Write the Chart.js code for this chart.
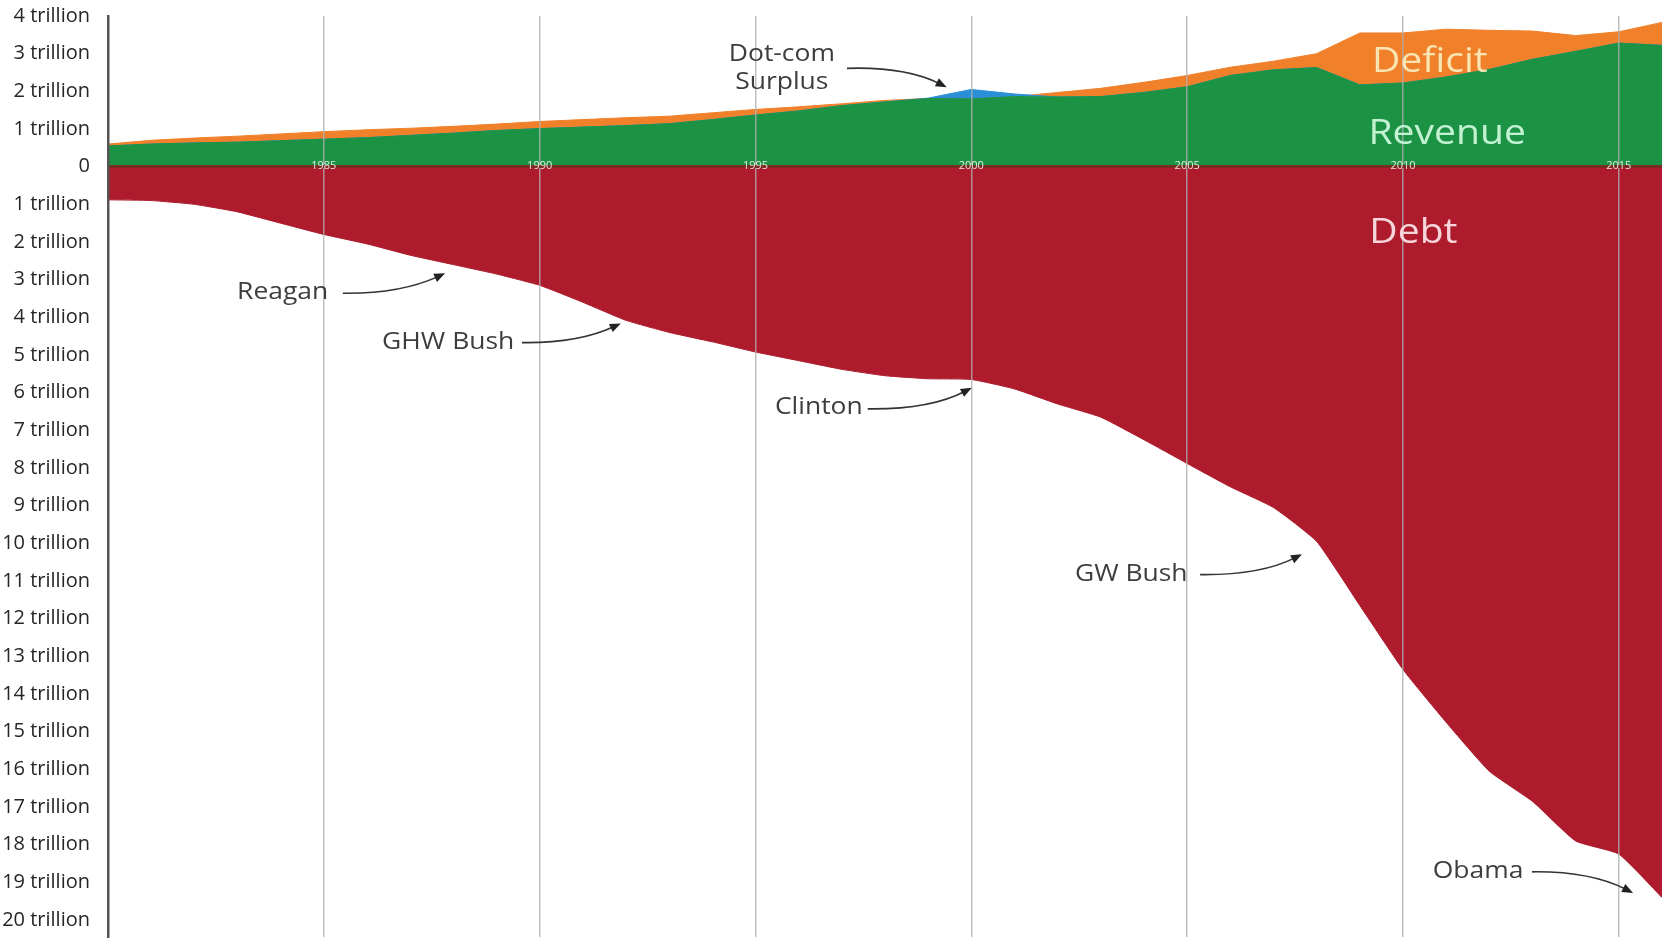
<!DOCTYPE html>
<html>
<head>
<meta charset="utf-8">
<title>Revenue, deficit and debt</title>
<script src="https://cdn.jsdelivr.net/npm/chart.js@4.4.1/dist/chart.umd.min.js"></script>
<style>
  html, body { margin: 0; background: #fff; }
  #wrap { width: 1662px; height: 940px; position: relative; }
</style>
</head>
<body>
<div id="wrap"><canvas id="debtChart"></canvas></div>
<script>
// values in trillions of dollars
const years = [1980, 1981, 1982, 1983, 1984, 1985, 1986, 1987, 1988, 1989,
  1990, 1991, 1992, 1993, 1994, 1995, 1996, 1997, 1998, 1999,
  2000, 2001, 2002, 2003, 2004, 2005, 2006, 2007, 2008, 2009,
  2010, 2011, 2012, 2013, 2014, 2015, 2016];
const revenue = [0.55, 0.60, 0.63, 0.65, 0.69, 0.73, 0.77, 0.83, 0.89, 0.96,
  1.01, 1.05, 1.09, 1.14, 1.25, 1.37, 1.48, 1.62, 1.72, 1.82,
  2.05, 1.93, 1.85, 1.86, 1.97, 2.12, 2.42, 2.57, 2.63, 2.17,
  2.22, 2.38, 2.58, 2.85, 3.06, 3.28, 3.22];
const outlays = [0.60, 0.70, 0.76, 0.81, 0.87, 0.93, 0.98, 1.02, 1.07, 1.13,
  1.20, 1.25, 1.30, 1.34, 1.43, 1.52, 1.59, 1.67, 1.76, 1.81,
  1.80, 1.86, 1.97, 2.08, 2.24, 2.42, 2.64, 2.80, 3.00, 3.55,
  3.55, 3.65, 3.62, 3.60, 3.48, 3.58, 3.83];
const debt = [0.88, 0.90, 1.00, 1.20, 1.50, 1.80, 2.05, 2.35, 2.60, 2.85,
  3.15, 3.60, 4.08, 4.40, 4.65, 4.92, 5.15, 5.38, 5.55, 5.63,
  5.65, 5.90, 6.30, 6.65, 7.25, 7.88, 8.50, 9.05, 9.95, 11.65,
  13.35, 14.75, 16.05, 16.85, 17.90, 18.25, 19.40];

const yearTicks = [1985, 1990, 1995, 2000, 2005, 2010, 2015];
const valueTicks = [4, 3, 2, 1, 0, -1, -2, -3, -4, -5, -6, -7, -8, -9, -10,
  -11, -12, -13, -14, -15, -16, -17, -18, -19, -20];

// big labels inside the areas, and the arrows with their captions (year, trillions)
const areaLabels = [
  { text: "Deficit", at: [2009.28, 2.51], color: "#f9e4b2" },
  { text: "Revenue", at: [2009.2, 0.61], color: "#c2f2d2" },
  { text: "Debt", at: [2009.22, -2.03], color: "#f6d6da" }
];
const notes = [
  { lines: ["Dot-com", "Surplus"], align: "center", at: [1995.61, 2.80], from: [1997.12, 2.61], via: [1998.46, 2.66], to: [1999.43, 2.11] },
  { lines: ["Reagan"], at: [1982.99, -3.52], from: [1985.44, -3.36], via: [1986.76, -3.38], to: [1987.81, -2.83] },
  { lines: ["GHW Bush"], at: [1986.35, -4.83], from: [1989.59, -4.67], via: [1990.89, -4.69], to: [1991.88, -4.16] },
  { lines: ["Clinton"], at: [1995.45, -6.56], from: [1997.60, -6.43], via: [1999.04, -6.45], to: [2000.01, -5.87] },
  { lines: ["GW Bush"], at: [2002.40, -10.99], from: [2005.30, -10.83], via: [2006.69, -10.85], to: [2007.66, -10.29] },
  { lines: ["Obama"], at: [2010.69, -18.88], from: [2012.99, -18.72], via: [2014.33, -18.70], to: [2015.33, -19.28] }
];

const pts = (vals) => years.map((yr, i) => ({ x: yr, y: vals[i] }));
const base = revenue.map((r, i) => Math.min(r, outlays[i]));

function stretchText(ctx, text, x, y, font, color, align) {
  ctx.save();
  ctx.translate(x, y);
  ctx.scale(1.15, 1);
  ctx.font = font;
  ctx.fillStyle = color;
  ctx.textAlign = align;
  ctx.textBaseline = "alphabetic";
  ctx.fillText(text, 0, 0);
  ctx.restore();
}

function arrow(ctx, [x0, y0], [cx, cy], [x1, y1]) {
  const ang = Math.atan2(y1 - cy, x1 - cx);
  const c = Math.cos(ang), s = Math.sin(ang);
  ctx.strokeStyle = "#333";
  ctx.fillStyle = "#222";
  ctx.lineWidth = 1.6;
  ctx.beginPath();
  ctx.moveTo(x0, y0);
  ctx.quadraticCurveTo(cx, cy, x1 - 8 * c, y1 - 8 * s);
  ctx.stroke();
  ctx.beginPath();
  ctx.moveTo(x1, y1);
  ctx.lineTo(x1 - 11 * c + 4.5 * s, y1 - 11 * s - 4.5 * c);
  ctx.lineTo(x1 - 11 * c - 4.5 * s, y1 - 11 * s + 4.5 * c);
  ctx.closePath();
  ctx.fill();
}

const notesPlugin = {
  id: "notes",
  afterDraw(chart) {
    const { ctx, scales: { x, y } } = chart;
    const px = ([a, b]) => [x.getPixelForValue(a), y.getPixelForValue(b)];
    ctx.save();
    areaLabels.forEach((l) => {
      const [lx, ly] = px(l.at);
      stretchText(ctx, l.text, lx, ly, "34px 'Open Sans'", l.color, "left");
    });
    notes.forEach((n) => {
      const [tx, ty] = px(n.at);
      n.lines.forEach((line, i) => stretchText(ctx, line, tx, ty + i * 28, "23px 'Open Sans'", "#3d3d3d", n.align || "left"));
      arrow(ctx, px(n.from), px(n.via), px(n.to));
    });
    ctx.restore();
  }
};

const area = (label, vals, color, fill, extra = {}) => ({
  label, data: pts(vals), fill, backgroundColor: color, borderColor: color,
  borderWidth: 1, pointRadius: 0, tension: 0, ...extra
});

new Chart(document.getElementById("debtChart"), {
  type: "line",
  data: {
    datasets: [
      area("Revenue", base, "#1c9245", "origin"),
      area("Surplus", revenue, "#2b8fd8", 0),
      area("Deficit", outlays, "#f0802a", 0),
      area("Debt", debt.map((v) => -v), "#ad1b2c", "origin", { tension: 0.15 })
    ]
  },
  options: {
    responsive: true,
    maintainAspectRatio: false,
    animation: false,
    events: [],
    layout: { padding: { top: 16, bottom: 3, left: 0, right: 0 } },
    plugins: { legend: { display: false }, tooltip: { enabled: false } },
    scales: {
      x: {
        type: "linear",
        min: 1980,
        max: 2016,
        position: { y: 0 },
        afterBuildTicks: (axis) => { axis.ticks = yearTicks.map((v) => ({ value: v })); },
        afterFit: (scale) => {
          scale.height = 0;
          scale.paddingLeft = scale.paddingRight = scale.paddingTop = scale.paddingBottom = 0;
        },
        grid: { color: "rgba(175,175,175,0.8)", lineWidth: 1.5, drawTicks: false, z: 1 },
        border: { color: "#7a2c22", width: 3, z: 1 },
        ticks: {
          z: 2,
          callback: (v) => String(v),
          color: "rgba(255,255,255,0.85)",
          font: { family: "'Open Sans'", size: 11 },
          padding: -7,
          maxRotation: 0,
          autoSkip: false
        }
      },
      y: {
        type: "linear",
        min: -20.45,
        max: 4,
        afterBuildTicks: (axis) => { axis.ticks = valueTicks.map((v) => ({ value: v })); },
        afterFit: (scale) => {
          scale.width = 108;
          scale.paddingTop = scale.paddingBottom = 0;
        },
        grid: { display: false, drawTicks: false },
        border: { color: "#555", width: 2.5, z: 1 },
        ticks: {
          callback: (v) => (v === 0 ? "0" : Math.abs(v) + " trillion"),
          color: "#262626",
          font: { family: "'Open Sans'", size: 20 },
          padding: 18
        }
      }
    }
  },
  plugins: [notesPlugin]
});
</script>
</body>
</html>
